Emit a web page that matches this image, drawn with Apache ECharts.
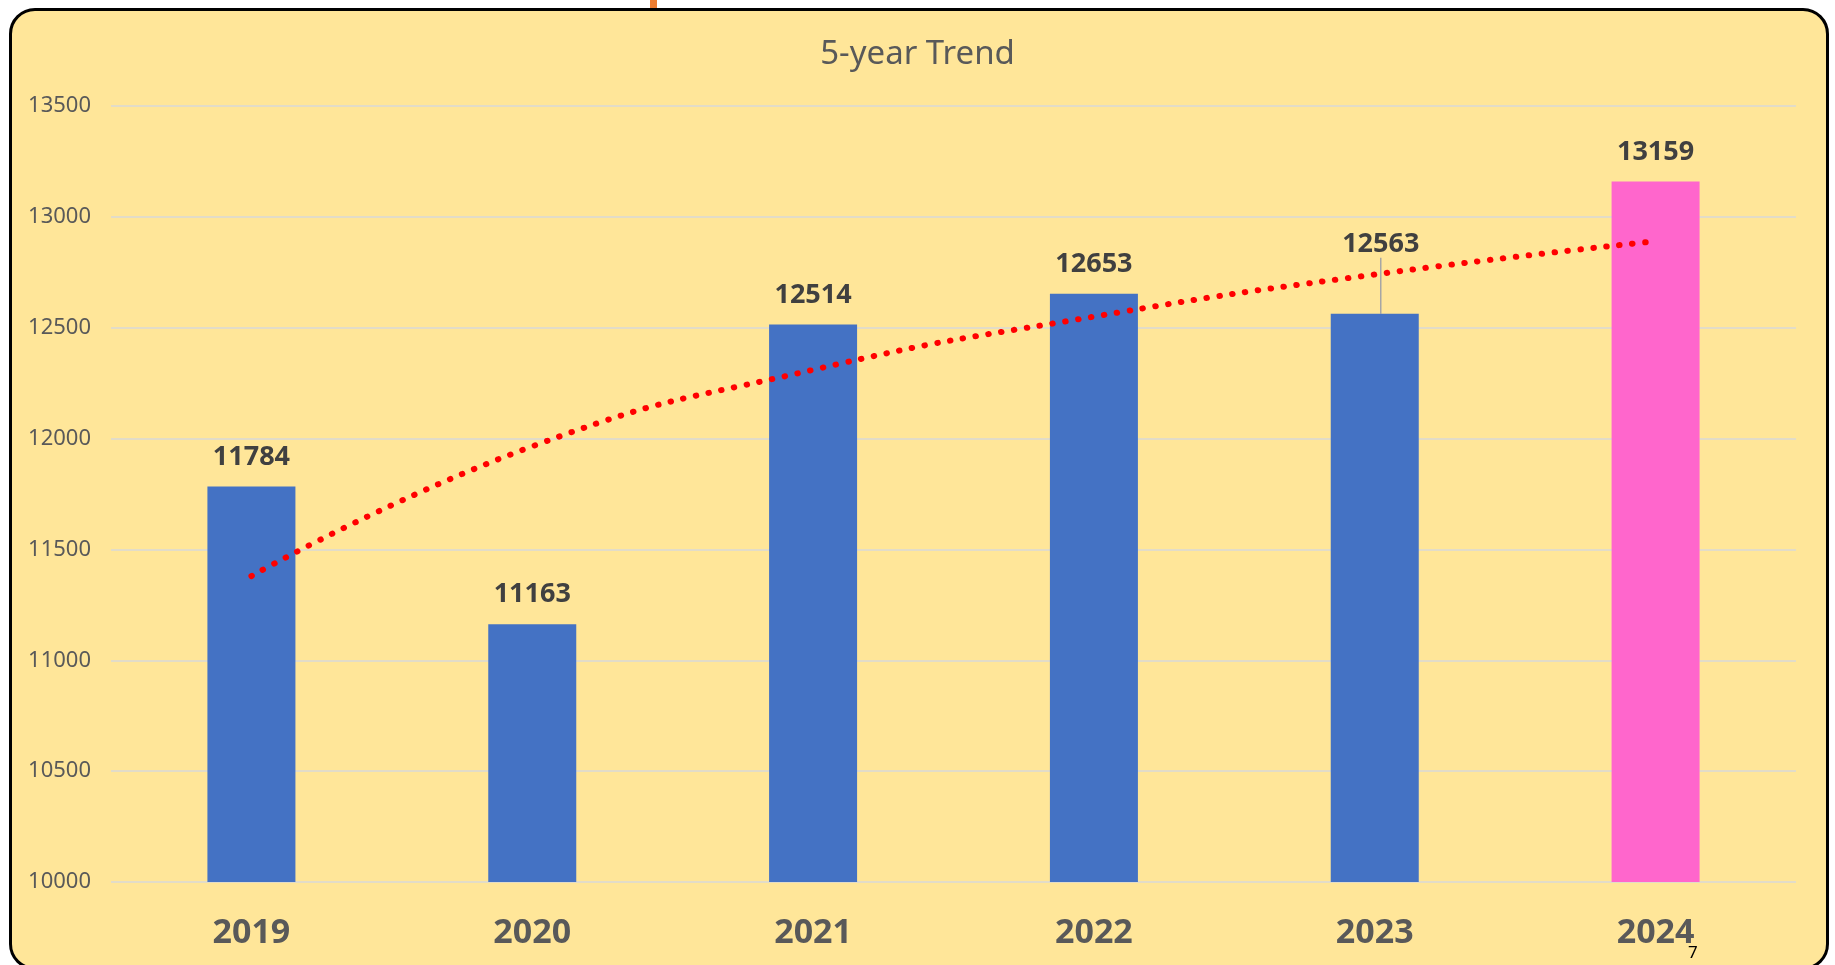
<!DOCTYPE html>
<html>
<head>
<meta charset="utf-8">
<script src="https://cdn.jsdelivr.net/npm/echarts@6/dist/echarts.min.js"></script>
<style>
  html, body { margin: 0; padding: 0; background: #fff; overflow: hidden; }
  #frame {
    position: absolute; left: 9px; top: 8px; width: 1814px; height: 956px;
    border: 3px solid #000; border-radius: 26px; background: #FFE699;
  }
  #tab { position: absolute; left: 650px; top: 0; width: 7px; height: 9px; background: #ED7D31; }
  #chart { position: absolute; left: 0; top: 0; width: 1835px; height: 965px; }
</style>
</head>
<body>
<div id="tab"></div>
<div id="frame"></div>
<div id="chart"></div>
<script>
const years = ['2019', '2020', '2021', '2022', '2023', '2024'];
const visitors = [11784, 11163, 12514, 12653, 12563, 13159];
// dotted trend line, values at each year
const trend = [11380, 11965, 12310, 12550, 12740, 12890];
const yTicks = { min: 10000, max: 13500, step: 500 };

const FONT = '"Noto Sans", "Open Sans", sans-serif';

const chart = echarts.init(document.getElementById('chart'));

chart.setOption({
  backgroundColor: 'transparent',
  title: {
    text: '5-year Trend',
    left: 'center',
    top: 33,
    textStyle: { color: '#595959', fontSize: 33, fontWeight: 'normal', fontFamily: FONT }
  },
  grid: { left: 111, right: 39, top: 106, bottom: 83 },
  xAxis: {
    type: 'category',
    data: years,
    axisLine: { show: false },
    axisTick: { show: false },
    axisLabel: {
      color: '#595959', fontSize: 34, fontWeight: 'bold', fontFamily: FONT, margin: 34
    }
  },
  yAxis: {
    type: 'value',
    min: yTicks.min,
    max: yTicks.max,
    interval: yTicks.step,
    axisLine: { show: false },
    axisTick: { show: false },
    axisLabel: {
      color: '#595959', fontSize: 22, fontFamily: FONT, margin: 20,
      formatter: (v) => String(v)
    },
    splitLine: { lineStyle: { color: '#D9D9D9', width: 1.5 } }
  },
  series: [
    {
      type: 'bar',
      barWidth: 88,
      data: visitors.map((v, i) => ({
        value: v,
        itemStyle: { color: i === visitors.length - 1 ? '#FF66CC' : '#4472C4' },
        labelLine: i === 4 ? { show: true, lineStyle: { color: '#A6A6A6', width: 1.5 } } : { show: false }
      })),
      label: {
        show: true,
        position: 'top',
        distance: 16,
        color: '#404040',
        fontSize: 27,
        fontWeight: 'bold',
        fontFamily: FONT
      },
      labelLayout: (p) => (p.dataIndex === 4 ? { dx: 6, dy: -40 } : {})
    },
    {
      type: 'line',
      data: trend,
      smooth: true,
      symbol: 'none',
      silent: true,
      z: 5,
      lineStyle: { color: '#FF0000', width: 6, type: [0.5, 12.5], cap: 'round' }
    }
  ],
  graphic: [
    {
      type: 'text',
      left: 1688,
      top: 945,
      style: { text: '7', fill: '#000', fontSize: 17, fontFamily: FONT }
    }
  ]
});
</script>
</body>
</html>
